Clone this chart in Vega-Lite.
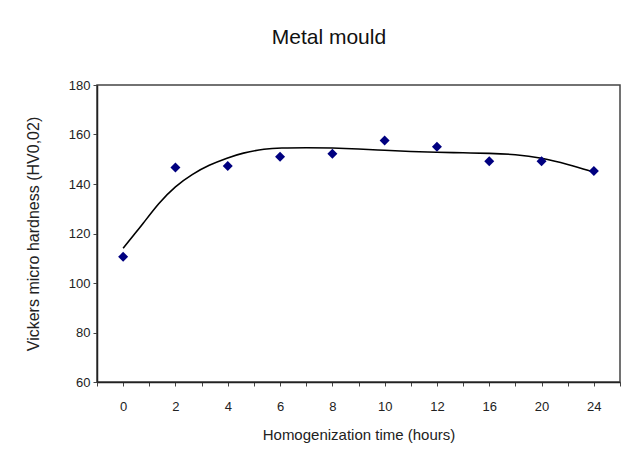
{
  "$schema": "https://vega.github.io/schema/vega-lite/v6.json",
  "width": 523,
  "height": 297,
  "autosize": {"type": "none"},
  "padding": {"left": 97, "top": 85, "right": 3, "bottom": 67},
  "background": "white",
  "title": {
    "text": "Metal mould",
    "font": "Liberation Sans",
    "fontSize": 21,
    "fontWeight": "normal",
    "color": "#111",
    "offset": 31,
    "anchor": "middle",
    "frame": "bounds",
    "dx": 6
  },
  "datasets": {
    "points": [
      {"idx": 0, "hours": "0", "hardness": 110.6},
      {"idx": 1, "hours": "2", "hardness": 146.7},
      {"idx": 2, "hours": "4", "hardness": 147.3},
      {"idx": 3, "hours": "6", "hardness": 151.0},
      {"idx": 4, "hours": "8", "hardness": 152.2},
      {"idx": 5, "hours": "10", "hardness": 157.6},
      {"idx": 6, "hours": "12", "hardness": 155.1},
      {"idx": 7, "hours": "16", "hardness": 149.2},
      {"idx": 8, "hours": "20", "hardness": 149.2},
      {"idx": 9, "hours": "24", "hardness": 145.3}
    ],
    "trend": [
      {"idx": 0, "fit": 114.0},
      {"idx": 0.18, "fit": 118.8},
      {"idx": 0.36, "fit": 123.4},
      {"idx": 0.68, "fit": 132.4},
      {"idx": 1.0, "fit": 139.2},
      {"idx": 1.32, "fit": 144.0},
      {"idx": 1.64, "fit": 147.7},
      {"idx": 2.0, "fit": 150.6},
      {"idx": 2.27, "fit": 152.5},
      {"idx": 2.72, "fit": 154.3},
      {"idx": 3.0, "fit": 154.6},
      {"idx": 3.5, "fit": 154.7},
      {"idx": 4.0, "fit": 154.6},
      {"idx": 4.5, "fit": 154.2},
      {"idx": 5.0, "fit": 153.6},
      {"idx": 5.5, "fit": 153.1},
      {"idx": 6.0, "fit": 152.8},
      {"idx": 6.5, "fit": 152.6},
      {"idx": 7.0, "fit": 152.4},
      {"idx": 7.5, "fit": 152.0},
      {"idx": 8.0, "fit": 150.6},
      {"idx": 8.5, "fit": 148.0},
      {"idx": 9.0, "fit": 144.8}
    ]
  },
  "encoding": {
    "x": {
      "field": "idx",
      "type": "quantitative",
      "scale": {"domain": [-0.5, 9.5], "nice": false, "zero": false},
      "axis": {
        "title": "Homogenization time (hours)",
        "values": [-0.5, 0, 0.5, 1, 1.5, 2, 2.5, 3, 3.5, 4, 4.5, 5, 5.5, 6, 6.5, 7, 7.5, 8, 8.5, 9, 9.5],
        "labelExpr": "datum.value == 0 ? '0' : datum.value == 1 ? '2' : datum.value == 2 ? '4' : datum.value == 3 ? '6' : datum.value == 4 ? '8' : datum.value == 5 ? '10' : datum.value == 6 ? '12' : datum.value == 7 ? '16' : datum.value == 8 ? '20' : datum.value == 9 ? '24' : ''",
        "labelOverlap": false,
        "labelFlush": false,
        "grid": false
      }
    }
  },
  "layer": [
    {
      "data": {"name": "trend"},
      "mark": {"type": "line", "color": "black", "strokeWidth": 1.6, "interpolate": "basis"},
      "encoding": {
        "y": {
          "field": "fit",
          "type": "quantitative",
          "scale": {"domain": [60, 180], "nice": false, "zero": false},
          "axis": {
            "title": "Vickers micro hardness (HV0,02)",
            "values": [60, 80, 100, 120, 140, 160, 180],
            "grid": false,
            "titlePadding": 27
          }
        }
      }
    },
    {
      "data": {"name": "points"},
      "mark": {"type": "point", "shape": "diamond", "filled": true, "color": "#000080", "size": 100, "opacity": 1},
      "encoding": {
        "y": {"field": "hardness", "type": "quantitative"}
      }
    }
  ],
  "config": {
    "view": {"stroke": "#444", "strokeWidth": 1.5},
    "axis": {
      "domainColor": "#222",
      "domainWidth": 1.5,
      "tickColor": "#444",
      "tickSize": 4,
      "labelFont": "Liberation Sans",
      "labelFontSize": 13,
      "labelColor": "#222",
      "titleFont": "Liberation Sans",
      "titleFontSize": 15,
      "titleFontWeight": "normal",
      "titleColor": "#222"
    },
    "axisX": {"labelPadding": 14, "titlePadding": 14, "labelAngle": 0, "labelOverlap": false},
    "axisY": {"labelPadding": 3, "titleFontSize": 16}
  }
}
